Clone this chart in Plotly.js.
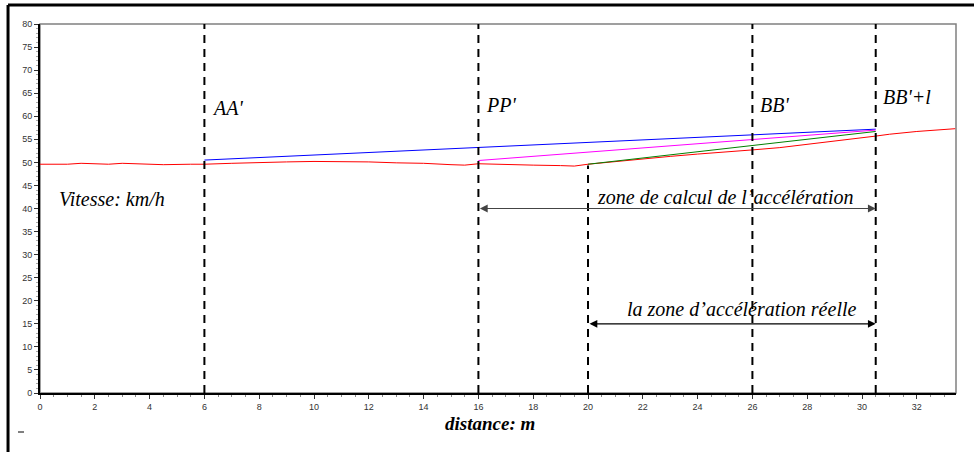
<!DOCTYPE html>
<html>
<head>
<meta charset="utf-8">
<script src="https://cdn.plot.ly/plotly-3.0.1.min.js"></script>
<style>html,body{margin:0;padding:0;background:#fff;}#chart{width:974px;height:452px;}</style>
</head>
<body>
<div id="chart"></div>
<script>
// Data
const redX = [0,1,1.5,2.5,3,3.5,4,4.5,5.5,6,7,8,9,10,11,12,13,14,15,15.5,16,17,18,19,19.5,20,21,22,23,24,25,26,27,28,29,30,30.5,31,32,33.4];
const redY = [49.6,49.6,49.8,49.6,49.8,49.7,49.5,49.5,49.6,49.6,49.8,50.0,50.1,50.2,50.2,50.1,49.9,49.8,49.5,49.4,49.7,49.5,49.4,49.3,49.2,49.6,50.2,50.8,51.3,51.8,52.2,52.7,53.2,53.9,54.5,55.2,55.7,56.1,56.7,57.3];
const blueX = [6,16,26,30.5];
const blueY = [50.5,53.2,56.0,57.2];
const magX = [16,26,30.5];
const magY = [50.4,55.0,57.0];
const greenX = [20,26,30.5];
const greenY = [49.6,53.6,56.7];

const sectionX = [6,16,26,30.5];       // full-height dashed markers
const sectionLabels = ["AA'","PP'","BB'","BB'+l"];
const sectionLabelY = [61.8,62.4,62.4,64.2];
const realStartX = 20;                   // short dashed marker
const realStartTop = 49.3;

const calcZone = {from:16, to:30.5, y:40, text:"zone de calcul de l\u2019acc\u00e9l\u00e9ration", textX:25.0, textY:42.5};
const realZone = {from:20, to:30.5, y:15, text:"la zone d\u2019acc\u00e9l\u00e9ration r\u00e9elle", textX:25.6, textY:18.2};

const xTicks = [0,2,4,6,8,10,12,14,16,18,20,22,24,26,28,30,32];
const yTicks = [0,5,10,15,20,25,30,35,40,45,50,55,60,65,70,75,80];

const serif = "Liberation Serif, Times New Roman, serif";

const traces = [
  {x:redX, y:redY, mode:'lines', line:{color:'#ff0000', width:1}},
  {x:blueX, y:blueY, mode:'lines', line:{color:'#0000ff', width:1}},
  {x:magX, y:magY, mode:'lines', line:{color:'#ff00ff', width:1}},
  {x:greenX, y:greenY, mode:'lines', line:{color:'#008000', width:1}}
];

const shapes = [];
// gray plot frame
shapes.push({type:'rect', xref:'paper', yref:'paper', x0:0, x1:1, y0:0, y1:1, line:{color:'#808080', width:1.5}, layer:'below'});
sectionX.forEach(v => shapes.push({type:'line', xref:'x', yref:'y', x0:v, x1:v, y0:0, y1:80, line:{color:'#000', width:2, dash:'8px,6px'}}));
shapes.push({type:'line', xref:'x', yref:'y', x0:realStartX, x1:realStartX, y0:0, y1:realStartTop, line:{color:'#000', width:2, dash:'8px,6px'}});
// outer black frame (top and left)
shapes.push({type:'line', xref:'paper', yref:'paper', x0:-0.0349, x1:1.03, y0:1.0515, y1:1.0515, line:{color:'#000', width:3}});
shapes.push({type:'line', xref:'paper', yref:'paper', x0:-0.0349, x1:-0.0349, y0:1.0515, y1:-0.17, line:{color:'#000', width:3}});
// small dash bottom-left
shapes.push({type:'line', xref:'paper', yref:'paper', x0:(18-40)/916, x1:(24-40)/916, y0:(393-432)/369, y1:(393-432)/369, line:{color:'#000', width:1}});

const annotations = [];
sectionX.forEach((v,i) => annotations.push({x:v+0.2, y:sectionLabelY[i], xref:'x', yref:'y', text:sectionLabels[i], showarrow:false, xanchor:'left', yanchor:'middle', font:{family:serif, size:20, color:'#000', style:'italic'}}));
annotations.push({x:0.62, y:42.1, xref:'x', yref:'y', text:'Vitesse: km/h', showarrow:false, xanchor:'left', yanchor:'middle', font:{family:serif, size:20, color:'#000', style:'italic'}});
[calcZone, realZone].forEach((z,i) => {
  annotations.push({x:z.textX, y:z.textY, xref:'x', yref:'y', text:z.text, showarrow:false, xanchor:'center', yanchor:'middle', font:{family:serif, size:20, color:'#000', style:'italic'}});
  annotations.push({x:z.to, y:z.y, ax:z.from, ay:z.y, xref:'x', yref:'y', axref:'x', ayref:'y', text:'', showarrow:true, arrowhead:2, startarrowhead:2, arrowside:'end+start', arrowsize:1.3, arrowwidth:1.2, arrowcolor: i===0 ? '#444' : '#000'});
});
annotations.push({x:0.491, y:(393-424)/369, xref:'paper', yref:'paper', text:'<b>distance: m</b>', showarrow:false, xanchor:'center', yanchor:'middle', font:{family:serif, size:19, color:'#000', style:'italic'}});

const layout = {
  width:974, height:452,
  margin:{l:40, r:18, t:24, b:59},
  paper_bgcolor:'#fff', plot_bgcolor:'#fff',
  showlegend:false,
  xaxis:{range:[0,33.43], tickvals:xTicks, ticktext:xTicks.map(String), showgrid:false, zeroline:false,
         showline:true, linecolor:'#000', linewidth:2, ticks:'outside', ticklen:4, tickcolor:'#333',
         minor:{dtick:0.5, tick0:0, ticks:'outside', ticklen:2, tickcolor:'#888', showgrid:false},
         tickfont:{family:'Arial, Liberation Sans, sans-serif', size:9, color:'#333'}},
  yaxis:{range:[0,80], tickvals:yTicks, ticktext:yTicks.map(String), showgrid:false, zeroline:false,
         showline:true, linecolor:'#000', linewidth:2, ticks:'outside', ticklen:4, tickcolor:'#333',
         minor:{dtick:1, tick0:0, ticks:'outside', ticklen:2, tickcolor:'#aaa', showgrid:false},
         tickfont:{family:'Arial, Liberation Sans, sans-serif', size:9, color:'#333'}},
  shapes:shapes,
  annotations:annotations
};

Plotly.newPlot('chart', traces, layout, {displayModeBar:false, staticPlot:true});
</script>
</body>
</html>
